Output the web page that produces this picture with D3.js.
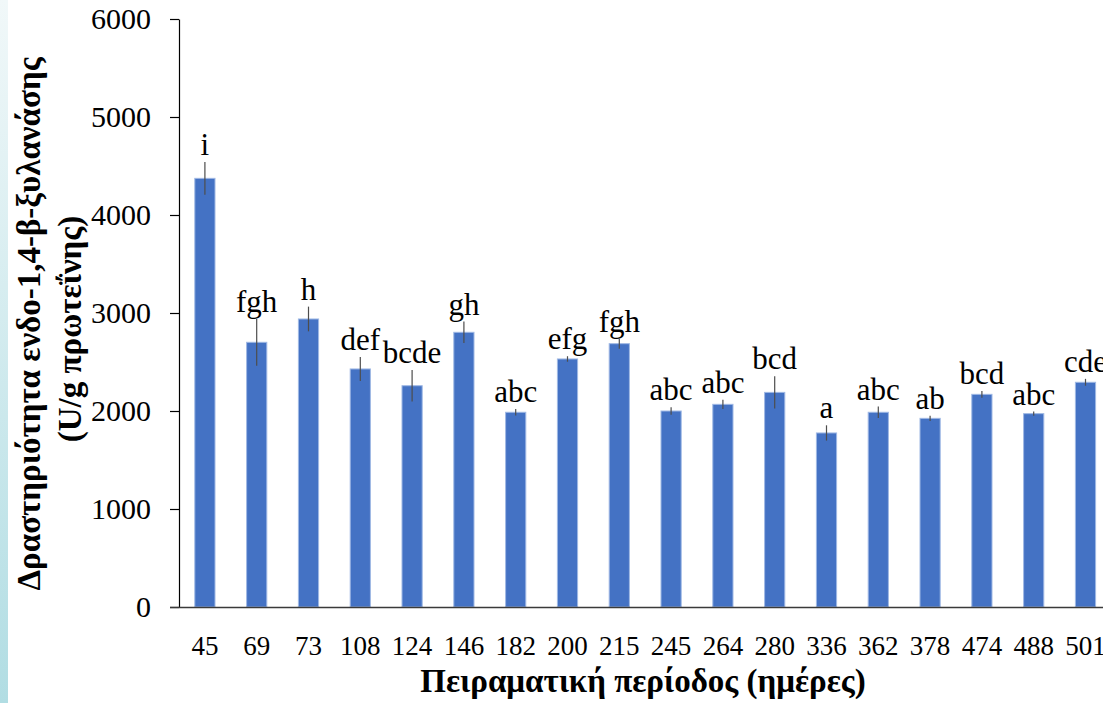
<!DOCTYPE html>
<html>
<head>
<meta charset="utf-8">
<script src="https://cdn.jsdelivr.net/npm/d3@7"></script>
<style>
  body { margin: 0; background: #fff; }
  text { font-family: "Liberation Serif", "Times New Roman", serif; fill: #000; }
</style>
</head>
<body>
<div id="my_barchart"></div>
<script>
// data
var days = ["45", "69", "73", "108", "124", "146", "182", "200", "215", "245", "264", "280", "336", "362", "378", "474", "488", "501"];
var activity = [4374, 2701, 2939, 2429, 2258, 2803, 1987, 2531, 2687, 2000, 2068, 2190, 1776, 1987, 1925, 2170, 1973, 2293];
var errors = [167, 238, 126, 122, 160, 109, 34, 28, 51, 38, 48, 164, 78, 58, 27, 34, 21, 35];
var letters = ["i", "fgh", "h", "def", "bcde", "gh", "abc", "efg", "fgh", "abc", "abc", "bcd", "a", "abc", "ab", "bcd", "abc", "cde"];
var yTicks = [0, 1000, 2000, 3000, 4000, 5000, 6000];

var W = 1103, H = 703;
var left = 179, top0 = 19, bottom = 607;
var step = 51.8;

var svg = d3.select("#my_barchart")
  .append("svg")
  .attr("width", W)
  .attr("height", H);

// light blue strip on the left edge
var grad = svg.append("defs").append("linearGradient")
  .attr("id", "strip")
  .attr("x1", 0).attr("y1", 0).attr("x2", 0).attr("y2", 1);
grad.append("stop").attr("offset", "0%").attr("stop-color", "#f1f8f9");
grad.append("stop").attr("offset", "100%").attr("stop-color", "#b1dde3");
svg.append("rect")
  .attr("x", 0).attr("y", 0)
  .attr("width", 8).attr("height", H)
  .attr("fill", "url(#strip)");

// scales (the plot runs off the right edge, as in the source)
var x = d3.scaleBand()
  .domain(days)
  .range([left, left + days.length * step])
  .paddingInner(0.61)
  .paddingOuter(0.305);

var y = d3.scaleLinear()
  .domain([0, 6000])
  .range([bottom, top0]);

// Y axis
var yAxis = svg.append("g")
  .attr("transform", "translate(" + left + ",0)")
  .attr("font-family", "Liberation Serif")
  .call(d3.axisLeft(y).tickValues(yTicks).tickFormat(d3.format("d"))
    .tickSize(9).tickSizeOuter(0).tickPadding(19));
yAxis.select(".domain").attr("stroke", "#000").attr("stroke-width", 1.2);
yAxis.selectAll(".tick line").attr("stroke", "#000").attr("stroke-width", 1.2);
yAxis.selectAll(".tick text")
  .attr("font-size", 30);

// bars
svg.selectAll("rect.bar")
  .data(days)
  .enter()
  .append("rect")
  .attr("class", "bar")
  .attr("x", function(d) { return x(d); })
  .attr("y", function(d, i) { return y(activity[i]); })
  .attr("width", x.bandwidth())
  .attr("height", function(d, i) { return bottom - y(activity[i]); })
  .attr("fill", "#4472c4")
  .attr("stroke", "#9fb8e4")
  .attr("stroke-width", 1);

// error bars
svg.selectAll("line.err")
  .data(days)
  .enter()
  .append("line")
  .attr("class", "err")
  .attr("x1", function(d) { return x(d) + x.bandwidth() / 2; })
  .attr("x2", function(d) { return x(d) + x.bandwidth() / 2; })
  .attr("y1", function(d, i) { return y(activity[i] + errors[i]); })
  .attr("y2", function(d, i) { return y(activity[i] - errors[i]); })
  .attr("stroke", "#4d4d4d")
  .attr("stroke-width", 1.2);

// significance letters
svg.selectAll("text.letter")
  .data(days)
  .enter()
  .append("text")
  .attr("class", "letter")
  .attr("x", function(d) { return x(d) + x.bandwidth() / 2; })
  .attr("y", function(d, i) { return y(activity[i] + errors[i]) - 7; })
  .attr("text-anchor", "middle")
  .attr("font-size", 31)
  .text(function(d, i) { return letters[i]; });

// X axis
var xAxis = svg.append("g")
  .attr("transform", "translate(0," + bottom + ")")
  .attr("font-family", "Liberation Serif")
  .call(d3.axisBottom(x).tickSize(0).tickPadding(29));
xAxis.select(".domain").remove();
xAxis.selectAll(".tick text")
  .attr("font-size", 27);
xAxis.append("line")
  .attr("x1", left - 9)
  .attr("x2", W)
  .attr("y1", 0.5)
  .attr("y2", 0.5)
  .attr("stroke", "#3a3a3a")
  .attr("stroke-width", 1.5);

// axis titles
svg.append("text")
  .attr("x", 643)
  .attr("y", 692)
  .attr("text-anchor", "middle")
  .attr("font-size", 33)
  .attr("font-weight", "bold")
  .text("Πειραματική περίοδος (ημέρες)");

svg.append("text")
  .attr("transform", "translate(40,324) rotate(-90)")
  .attr("text-anchor", "middle")
  .attr("font-size", 33)
  .attr("font-weight", "bold")
  .text("Δραστηριότητα ενδο-1,4-β-ξυλανάσης");

svg.append("text")
  .attr("transform", "translate(81,329) rotate(-90)")
  .attr("text-anchor", "middle")
  .attr("font-size", 33)
  .attr("font-weight", "bold")
  .text("(U/g πρωτεΐνης)");
</script>
</body>
</html>
